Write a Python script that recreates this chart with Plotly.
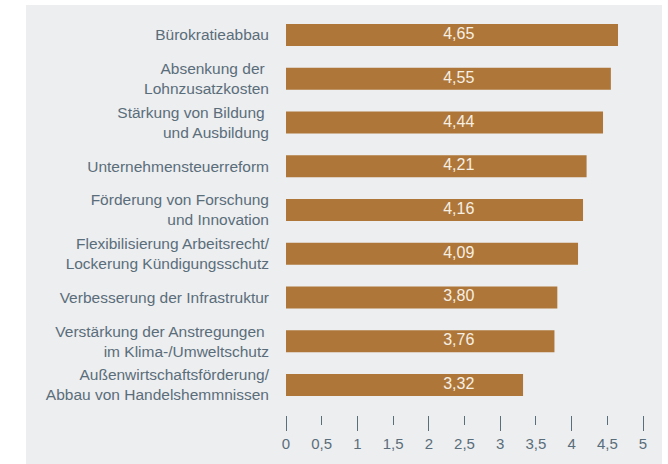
import plotly.graph_objects as go

categories = [
    "Bürokratieabbau",
    "Absenkung der\u00a0<br>Lohnzusatzkosten",
    "Stärkung von Bildung\u00a0<br>und Ausbildung",
    "Unternehmensteuerreform",
    "Förderung von Forschung<br>und Innovation",
    "Flexibilisierung Arbeitsrecht/<br>Lockerung Kündigungsschutz",
    "Verbesserung der Infrastruktur",
    "Verstärkung der Anstregungen\u00a0<br>im Klima-/Umweltschutz",
    "Außenwirtschaftsförderung/<br>Abbau von Handelshemmnissen",
]
values = [4.65, 4.55, 4.44, 4.21, 4.16, 4.09, 3.80, 3.76, 3.32]
value_labels = [f"{v:.2f}".replace(".", ",") for v in values]
tick_vals = [0, 0.5, 1, 1.5, 2, 2.5, 3, 3.5, 4, 4.5, 5]
tick_text = ["0", "0,5", "1", "1,5", "2", "2,5", "3", "3,5", "4", "4,5", "5"]
major_vals = [0, 1, 2, 3, 4, 5]

BAR_COLOR = "#ae7739"
TEXT_COLOR = "#5a6d7a"
PANEL = "#edeef0"
LABEL_X = 2.42
FONT = "Liberation Sans, Arial, sans-serif"

W, H = 668, 464
L, R, T, B = 286, 25, 13, 49

fig = go.Figure()
fig.add_trace(go.Bar(
    x=values, y=categories, orientation="h",
    marker=dict(color=BAR_COLOR, line=dict(width=0)),
    width=0.5, hoverinfo="skip", showlegend=False,
))
fig.add_trace(go.Scatter(
    x=[LABEL_X] * len(values), y=categories, mode="text",
    text=value_labels, textposition="middle center",
    textfont=dict(family=FONT, size=16, color="#f6efe4"),
    hoverinfo="skip", showlegend=False, xaxis="x2", yaxis="y",
))

plot_w = W - L - R
plot_h = H - T - B
fig.add_shape(
    type="rect", xref="paper", yref="paper", layer="below",
    x0=(26 - L) / plot_w, x1=(662 - L) / plot_w,
    y0=(H - B - 470) / plot_h, y1=(H - B - 5) / plot_h,
    fillcolor=PANEL, line=dict(width=0),
)

fig.update_layout(
    width=W, height=H,
    margin=dict(l=L, r=R, t=T, b=B, pad=0),
    paper_bgcolor="white", plot_bgcolor="rgba(0,0,0,0)",
    font=dict(family=FONT, size=15, color=TEXT_COLOR),
    xaxis=dict(
        range=[0, 5], tickvals=tick_vals, ticktext=tick_text,
        ticks="outside", ticklen=9, tickwidth=1, tickcolor=TEXT_COLOR,
        ticklabelstandoff=6,
        showgrid=False, zeroline=False, showline=False,
        tickfont=dict(size=15, color=TEXT_COLOR),
        fixedrange=True,
    ),
    xaxis2=dict(
        overlaying="x", side="bottom", anchor="y", range=[0, 5],
        tickvals=major_vals, ticks="outside", ticklen=15, tickwidth=1,
        tickcolor=TEXT_COLOR, showticklabels=False,
        showgrid=False, zeroline=False, showline=False, fixedrange=True,
    ),
    yaxis=dict(
        type="category", categoryorder="array", categoryarray=categories,
        range=[8.686, -0.503], showgrid=False, zeroline=False, showline=False,
        ticks="", ticklabelstandoff=16,
        tickfont=dict(size=15.5, color=TEXT_COLOR),
        fixedrange=True,
    ),
)

fig.write_html("out.html")
